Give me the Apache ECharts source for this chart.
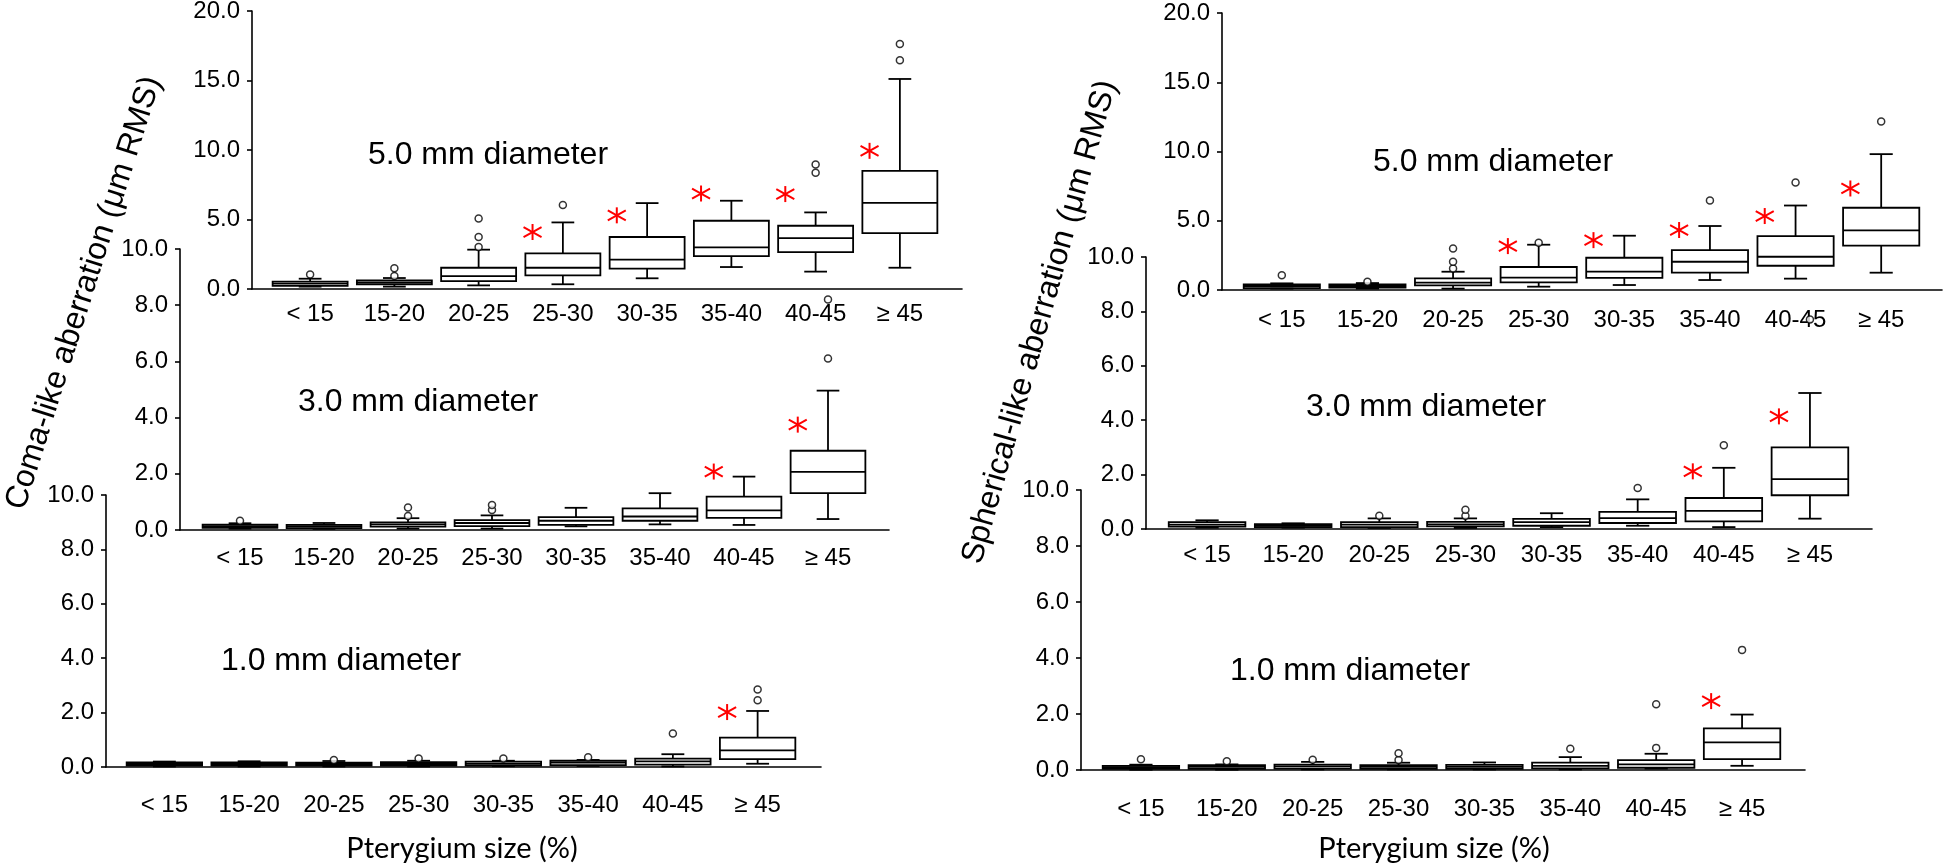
<!DOCTYPE html>
<html><head><meta charset="utf-8">
<script src="https://cdn.jsdelivr.net/npm/echarts@6/dist/echarts.min.js"></script>
<style>html,body{margin:0;padding:0;background:#fff}#c{width:1946px;height:866px}</style>
</head><body><div id="c"></div>
<script>
// ---------- data ----------
const categories = ['< 15', '15-20', '20-25', '25-30', '30-35', '35-40', '40-45', '≥ 45'];
// box rows: [min, Q1, median, Q3, max] per category
const comaD5Box = [[0.17,0.22,0.38,0.53,0.74],[0.17,0.34,0.48,0.62,0.79],[0.26,0.57,0.93,1.53,2.83],[0.34,0.98,1.53,2.56,4.79],[0.77,1.46,2.11,3.74,6.18],[1.58,2.37,2.99,4.91,6.35],[1.25,2.66,3.66,4.55,5.51],[1.53,4.02,6.20,8.50,15.11]];
const comaD5Outliers = [[0,1.05],[1,0.93],[1,1.49],[2,3.02],[2,3.74],[2,5.08],[3,6.04],[6,8.36],[6,8.96],[7,16.46],[7,17.63]];
const comaD5Stars = [[3,4.1],[4,5.3],[5,6.87],[6,6.83],[7,9.94]];

const comaD3Box = [[0.05,0.08,0.14,0.19,0.24],[0.04,0.07,0.13,0.18,0.25],[0.05,0.12,0.20,0.27,0.42],[0.05,0.14,0.25,0.35,0.52],[0.13,0.18,0.33,0.46,0.79],[0.20,0.33,0.48,0.77,1.31],[0.18,0.43,0.70,1.19,1.90],[0.39,1.31,2.07,2.82,4.96]];
const comaD3Outliers = [[0,0.33],[2,0.5],[2,0.8],[3,0.71],[3,0.89],[7,6.1],[7,8.2]];
const comaD3Stars = [[6,2.08],[7,3.75]];

const comaD1Box = [[0.02,0.05,0.11,0.17,0.20],[0.02,0.05,0.11,0.17,0.21],[0.02,0.05,0.11,0.16,0.22],[0.02,0.05,0.11,0.18,0.23],[0.03,0.05,0.12,0.20,0.23],[0.04,0.07,0.16,0.23,0.26],[0.02,0.09,0.21,0.31,0.47],[0.12,0.29,0.61,1.08,2.06]];
const comaD1Outliers = [[2,0.26],[3,0.31],[4,0.31],[5,0.36],[6,1.23],[7,2.45],[7,2.85]];
const comaD1Stars = [[7,2.02]];

const sphD5Box = [[0.10,0.14,0.29,0.41,0.48],[0.10,0.17,0.29,0.41,0.50],[0.10,0.34,0.53,0.84,1.32],[0.24,0.55,0.89,1.66,3.27],[0.36,0.87,1.32,2.33,3.92],[0.72,1.25,2.04,2.88,4.62],[0.82,1.75,2.40,3.89,6.10],[1.25,3.20,4.30,5.94,9.81]];
const sphD5Outliers = [[0,1.06],[1,0.6],[2,1.56],[2,2.04],[2,3.0],[3,3.41],[5,6.47],[6,7.76],[7,12.16]];
const sphD5Stars = [[3,3.17],[4,3.6],[5,4.33],[6,5.34],[7,7.33]];

const sphD3Box = [[0.05,0.09,0.16,0.25,0.32],[0.05,0.07,0.12,0.18,0.21],[0.04,0.07,0.16,0.25,0.39],[0.04,0.10,0.17,0.26,0.39],[0.07,0.12,0.25,0.37,0.58],[0.12,0.22,0.40,0.63,1.09],[0.07,0.28,0.67,1.14,2.25],[0.38,1.24,1.83,3.00,5.00]];
const sphD3Outliers = [[2,0.49],[3,0.49],[3,0.71],[5,1.51],[6,3.08],[7,7.7]];
const sphD3Stars = [[6,2.12],[7,4.14]];

const sphD1Box = [[0.01,0.04,0.10,0.15,0.19],[0.01,0.04,0.11,0.17,0.20],[0.02,0.05,0.13,0.19,0.29],[0.02,0.04,0.11,0.17,0.26],[0.02,0.04,0.11,0.18,0.27],[0.02,0.06,0.15,0.26,0.46],[0.05,0.08,0.20,0.35,0.58],[0.15,0.39,0.99,1.49,1.98]];
const sphD1Outliers = [[0,0.38],[1,0.31],[2,0.37],[3,0.36],[3,0.6],[5,0.76],[6,0.79],[6,2.35],[7,4.29]];
const sphD1Stars = [[7,2.46]];

const panelTitles = ['5.0 mm diameter', '3.0 mm diameter', '1.0 mm diameter'];
const yTitleLeft = 'Coma-like aberration (μm RMS)';
const yTitleRight = 'Spherical-like aberration (μm RMS)';
const xTitle = 'Pterygium size (%)';

// ---------- layout ----------
const FONT = "'Liberation Sans', Arial, sans-serif";
const panels = [
  {box: comaD5Box, out: comaD5Outliers, stars: comaD5Stars, yMax: 20, step: 5, axisX: 252, axisEnd: 962, b0: 268, b1: 942, top: 11, zero: 289, lm: 13, title: panelTitles[0], tx: 488, ty: 155},
  {box: comaD3Box, out: comaD3Outliers, stars: comaD3Stars, yMax: 10, step: 2, axisX: 180, axisEnd: 889, b0: 198, b1: 870, top: 249, zero: 530, lm: 16, title: panelTitles[1], tx: 418, ty: 402},
  {box: comaD1Box, out: comaD1Outliers, stars: comaD1Stars, yMax: 10, step: 2, axisX: 106, axisEnd: 821, b0: 122, b1: 800, top: 495, zero: 767, lm: 26, title: panelTitles[2], tx: 341, ty: 661},
  {box: sphD5Box, out: sphD5Outliers, stars: sphD5Stars, yMax: 20, step: 5, axisX: 1222, axisEnd: 1942, b0: 1239, b1: 1924, top: 13, zero: 290, lm: 18, title: panelTitles[0], tx: 1493, ty: 162},
  {box: sphD3Box, out: sphD3Outliers, stars: sphD3Stars, yMax: 10, step: 2, axisX: 1146, axisEnd: 1872, b0: 1164, b1: 1853, top: 257, zero: 529, lm: 14, title: panelTitles[1], tx: 1426, ty: 407},
  {box: sphD1Box, out: sphD1Outliers, stars: sphD1Stars, yMax: 10, step: 2, axisX: 1081, axisEnd: 1805, b0: 1098, b1: 1785, top: 490, zero: 770, lm: 27, title: panelTitles[2], tx: 1350, ty: 671}
];

function seg(x1, y1, x2, y2, color, w) {
  return {type: 'line', shape: {x1, y1, x2, y2}, style: {stroke: color, lineWidth: w}};
}
function renderBox(params, api) {
  const i = api.value(0);
  const lo = api.coord([i, api.value(1)]);
  const q1 = api.coord([i, api.value(2)]);
  const md = api.coord([i, api.value(3)]);
  const q3 = api.coord([i, api.value(4)]);
  const hi = api.coord([i, api.value(5)]);
  const band = api.size([1, 0])[0];
  const bw = band * 0.89, cw = band * 0.27, cx = lo[0], w = 1.8;
  return {type: 'group', children: [
    {type: 'rect', shape: {x: cx - bw / 2, y: q3[1], width: bw, height: q1[1] - q3[1]}, style: {stroke: '#000', fill: 'none', lineWidth: w}},
    seg(cx - bw / 2, md[1], cx + bw / 2, md[1], '#000', w),
    seg(cx, q3[1], cx, hi[1], '#000', w),
    seg(cx - cw / 2, hi[1], cx + cw / 2, hi[1], '#000', w),
    seg(cx, q1[1], cx, lo[1], '#000', w),
    seg(cx - cw / 2, lo[1], cx + cw / 2, lo[1], '#000', w)
  ]};
}
function renderStar(params, api) {
  const p = api.coord([api.value(0), api.value(1)]);
  const band = api.size([1, 0])[0];
  const cx = p[0] - band * 0.36, cy = p[1];
  return {type: 'group', children: [
    seg(cx, cy - 8, cx, cy + 8, '#ff0000', 2),
    seg(cx - 9, cy - 5, cx + 9, cy + 5, '#ff0000', 2),
    seg(cx - 9, cy + 5, cx + 9, cy - 5, '#ff0000', 2)
  ]};
}

const grid = [], xAxis = [], yAxis = [], series = [], graphic = [];
panels.forEach(function (p, k) {
  const h = p.zero - p.top;
  grid.push({left: p.axisX, top: p.top, width: p.axisEnd - p.axisX, height: h, outerBoundsMode: 'none', containLabel: false});
  xAxis.push({gridIndex: 2 * k, type: 'value', min: 0, max: 1, axisLine: {show: true, onZero: false, lineStyle: {color: '#000', width: 1.6}}, axisTick: {show: false}, axisLabel: {show: false}, splitLine: {show: false}});
  yAxis.push({gridIndex: 2 * k, type: 'value', min: 0, max: p.yMax, interval: p.step,
    axisLine: {show: true, lineStyle: {color: '#000', width: 1.6}},
    axisTick: {show: true, length: 5, lineStyle: {color: '#000', width: 1.6}},
    axisLabel: {show: true, margin: 12, fontSize: 24, fontFamily: FONT, color: '#000', formatter: function (v) { return v.toFixed(1); }},
    splitLine: {show: false}});
  grid.push({left: p.b0, top: p.top, width: p.b1 - p.b0, height: h, outerBoundsMode: 'none', containLabel: false});
  xAxis.push({gridIndex: 2 * k + 1, type: 'category', data: categories, boundaryGap: true,
    axisLine: {show: false}, axisTick: {show: false}, splitLine: {show: false},
    axisLabel: {show: true, interval: 0, margin: p.lm, fontSize: 24, fontFamily: FONT, color: '#000'}});
  yAxis.push({gridIndex: 2 * k + 1, type: 'value', min: 0, max: p.yMax, show: false});
  const xi = 2 * k + 1, yi = 2 * k + 1;
  series.push({type: 'custom', xAxisIndex: xi, yAxisIndex: yi, clip: false, silent: true,
    data: p.box.map(function (b, i) { return [i].concat(b); }),
    encode: {x: 0, y: [1, 2, 3, 4, 5]}, renderItem: renderBox, z: 2});
  series.push({type: 'scatter', xAxisIndex: xi, yAxisIndex: yi, silent: true, clip: false,
    data: p.out, symbol: 'circle', symbolSize: 7,
    itemStyle: {color: '#fff', borderColor: '#000', borderWidth: 1.5}, z: 3});
  series.push({type: 'custom', xAxisIndex: xi, yAxisIndex: yi, clip: false, silent: true,
    data: p.stars, encode: {x: 0, y: 1}, renderItem: renderStar, z: 4});
  graphic.push({type: 'text', x: p.tx, y: p.ty, silent: true,
    style: {text: p.title, fontSize: 32, fontFamily: FONT, fill: '#000', align: 'center', verticalAlign: 'middle'}});
});

graphic.push({type: 'text', x: 84, y: 293, rotation: 72.4 * Math.PI / 180, silent: true,
  style: {text: yTitleLeft, fontSize: 32, fontFamily: FONT, fill: '#000', align: 'center', verticalAlign: 'middle'}});
graphic.push({type: 'text', x: 1040, y: 322, rotation: 74.3 * Math.PI / 180, silent: true,
  style: {text: yTitleRight, fontSize: 32, fontFamily: FONT, fill: '#000', align: 'center', verticalAlign: 'middle'}});
graphic.push({type: 'text', x: 462, y: 849, silent: true,
  style: {text: xTitle, fontSize: 29, fontFamily: "Lato, 'Open Sans', sans-serif", fill: '#000', align: 'center', verticalAlign: 'middle'}});
graphic.push({type: 'text', x: 1434, y: 849, silent: true,
  style: {text: xTitle, fontSize: 29, fontFamily: "Lato, 'Open Sans', sans-serif", fill: '#000', align: 'center', verticalAlign: 'middle'}});

const chart = echarts.init(document.getElementById('c'), null, {renderer: 'canvas'});
chart.setOption({backgroundColor: '#fff', animation: false, grid, xAxis, yAxis, series, graphic});
</script>
</body></html>
